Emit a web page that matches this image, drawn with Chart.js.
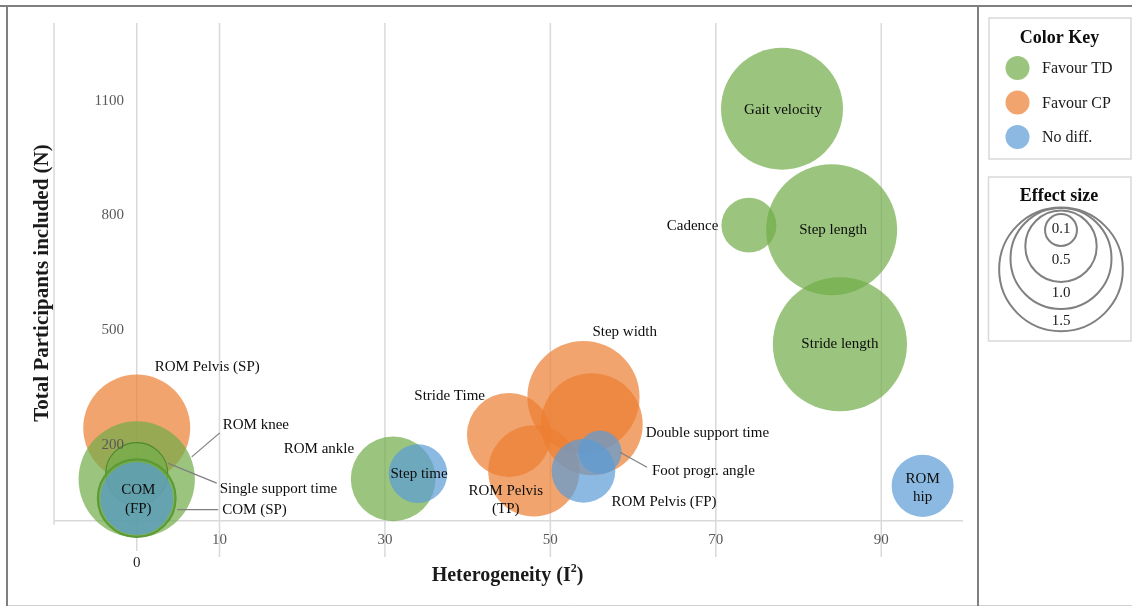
<!DOCTYPE html>
<html>
<head>
<meta charset="utf-8">
<script src="https://cdn.jsdelivr.net/npm/chart.js@4.4.1/dist/chart.umd.min.js"></script>
<style>
html,body{margin:0;padding:0;background:#fff;}
#wrap{position:relative;width:1132px;height:606px;}
canvas{display:block;}
</style>
</head>
<body>
<div id="wrap"><canvas id="c" width="1132" height="606"></canvas></div>
<script>
// ---------- DATA ----------
// Favour TD (green)
const tdLabels = ['ROM knee', 'Single support time', 'COM (SP)', 'ROM ankle', 'Cadence', 'Gait velocity', 'Step length', 'Stride length'];
const tdHeterogeneity = [0, 0, 0, 31, 74, 78, 84, 85];
const tdParticipants = [108, 123, 59, 109, 772, 1076, 760, 461];
const tdEffectSize = [1.3, 0.37, 0.58, 0.69, 0.29, 1.43, 1.65, 1.73];

// Favour CP (orange)
const cpLabels = ['ROM Pelvis (SP)', 'Stride Time', 'ROM Pelvis (TP)', 'Step width', 'Double support time'];
const cpHeterogeneity = [0, 45, 48, 54, 55];
const cpParticipants = [242, 224, 130, 323, 252];
const cpEffectSize = [1.10, 0.68, 0.80, 1.21, 1.00];

// No difference (blue)
const ndLabels = ['Step time', 'ROM Pelvis (FP)', 'Foot progr. angle', 'ROM hip', 'COM (FP)'];
const ndHeterogeneity = [34, 54, 56, 95, 0];
const ndParticipants = [123, 130, 179, 91, 58];
const ndEffectSize = [0.33, 0.39, 0.18, 0.37, 0.51];

// Axis ticks
const xGridValues = [0, 10, 30, 50, 70, 90];
const xTickLabels = [10, 30, 50, 70, 90];
const yTickLabels = [200, 500, 800, 1100];

// Legends
const colorKeyLabels = ['Favour TD', 'Favour CP', 'No diff.'];
const effectLegendValues = [0.1, 0.5, 1.0, 1.5];
const effectLegendText = ['0.1', '0.5', '1.0', '1.5'];

// ---------- STYLE / LAYOUT ----------
const SIZE_K = 51; // bubble radius (px) for effect size 1.0 (area proportional)
const COLORS = {
  td: 'rgba(112,173,71,0.7)',
  cp: 'rgba(237,125,49,0.7)',
  nd: 'rgba(91,155,213,0.7)'
};
const OUTLINES = {
  'Single support time': {w: 1.2, c: '#4f8a2e'},
  'COM (SP)': {w: 2.2, c: '#5b9a36'}
};
// label placement relative to bubble centre (px)
const LABEL_LAYOUT = {
  'Gait velocity': {dx: 1, dy: 1.5, align: 'center'},
  'Cadence': {dx: -30.5, dy: 1, align: 'right'},
  'Step length': {dx: 1.5, dy: 0, align: 'center'},
  'Stride length': {dx: 0, dy: 0, align: 'center'},
  'ROM hip': {dx: 0, dy: -7, align: 'center', lines: ['ROM', 'hip'], lh: 18},
  'Step width': {dx: 9, dy: -65, align: 'left'},
  'Double support time': {dx: 54, dy: 9, align: 'left'},
  'Stride Time': {dx: -24, dy: -39, align: 'right'},
  'ROM Pelvis (TP)': {dx: -28, dy: 20, align: 'center', lines: ['ROM Pelvis', '(TP)'], lh: 18},
  'ROM Pelvis (FP)': {dx: 28, dy: 31, align: 'left'},
  'Foot progr. angle': {dx: 52, dy: 19, align: 'left', leader: [20, 0, 47, 15]},
  'ROM ankle': {dx: -39, dy: -30, align: 'right'},
  'Step time': {dx: 1, dy: 0, align: 'center'},
  'ROM Pelvis (SP)': {dx: 18, dy: -61, align: 'left'},
  'ROM knee': {dx: 86, dy: -54.5, align: 'left', leader: [55, -22.5, 83, -46.5]},
  'Single support time': {dx: 83, dy: 15.5, align: 'left', leader: [31, -10.5, 80, 9.5]},
  'COM (SP)': {dx: 85.5, dy: 12, align: 'left', leader: [40.5, 11.5, 81.5, 11.5]},
  'COM (FP)': {dx: 1.5, dy: -8.5, align: 'center', lines: ['COM', '(FP)'], lh: 19}
};
const SERIF = '"Liberation Serif", "Times New Roman", serif';

function makePoints(xs, ys, es, labels) {
  return xs.map((x, i) => ({x: x, y: ys[i], r: SIZE_K * Math.sqrt(es[i]), label: labels[i]}));
}
function outlineW(ctx) { const p = ctx.raw; return p && OUTLINES[p.label] ? OUTLINES[p.label].w : 0; }
function outlineC(ctx) { const p = ctx.raw; return p && OUTLINES[p.label] ? OUTLINES[p.label].c : 'rgba(0,0,0,0)'; }

// Chart.js paints the last dataset first, so the top-most series comes first here
const datasets = [
  {label: 'No diff.', data: makePoints(ndHeterogeneity, ndParticipants, ndEffectSize, ndLabels), backgroundColor: COLORS.nd},
  {label: 'Favour TD', data: makePoints(tdHeterogeneity, tdParticipants, tdEffectSize, tdLabels), backgroundColor: COLORS.td},
  {label: 'Favour CP', data: makePoints(cpHeterogeneity, cpParticipants, cpEffectSize, cpLabels), backgroundColor: COLORS.cp}
].map(d => Object.assign(d, {borderWidth: outlineW, borderColor: outlineC, hoverBorderWidth: outlineW, hoverRadius: 0, clip: false}));

const customPlugin = {
  id: 'custom',
  beforeDatasetsDraw(chart) {
    const {ctx, chartArea: a, scales: {x, y}} = chart;
    ctx.save();
    // outer frame
    ctx.strokeStyle = '#d0d0d0'; ctx.lineWidth = 1;
    ctx.beginPath(); ctx.moveTo(7, 605.5); ctx.lineTo(1132, 605.5); ctx.stroke();
    ctx.strokeStyle = '#7f7f7f'; ctx.lineWidth = 2;
    ctx.beginPath(); ctx.moveTo(0, 6); ctx.lineTo(1132, 6); ctx.stroke();
    ctx.beginPath(); ctx.moveTo(7, 5); ctx.lineTo(7, 606); ctx.stroke();
    ctx.beginPath(); ctx.moveTo(978, 5); ctx.lineTo(978, 606); ctx.stroke();

    // grid lines
    ctx.strokeStyle = '#d9d9d9'; ctx.lineWidth = 1.5;
    xGridValues.forEach(v => {
      const px = x.getPixelForValue(v);
      ctx.beginPath(); ctx.moveTo(px, a.top); ctx.lineTo(px, v === 0 ? a.bottom - 8 : a.bottom - 2); ctx.stroke();
    });
    const py0 = y.getPixelForValue(0);
    // vertical axis line
    ctx.beginPath(); ctx.moveTo(a.left, a.top); ctx.lineTo(a.left, py0 + 4); ctx.stroke();
    // horizontal axis line at 0
    ctx.beginPath(); ctx.moveTo(a.left, py0); ctx.lineTo(a.right - 1, py0); ctx.stroke();
    ctx.restore();
  },
  afterDatasetsDraw(chart) {
    const {ctx, chartArea: a, scales: {x, y}} = chart;
    ctx.save();
    // tick labels
    ctx.fillStyle = '#595959';
    ctx.font = '15px ' + SERIF;
    ctx.textBaseline = 'middle';
    ctx.textAlign = 'right';
    yTickLabels.forEach(v => ctx.fillText(String(v), 124, y.getPixelForValue(v) + 1));
    ctx.textAlign = 'center';
    const py0 = y.getPixelForValue(0);
    xTickLabels.forEach(v => ctx.fillText(String(v), x.getPixelForValue(v), py0 + 19));
    ctx.fillStyle = '#262626';
    ctx.fillText('0', x.getPixelForValue(0), py0 + 42);

    // axis titles
    ctx.fillStyle = '#1a1a1a';
    ctx.font = 'bold 20px ' + SERIF;
    const t1 = 'Heterogeneity (I', t2 = '2', t3 = ')';
    const w1 = ctx.measureText(t1).width;
    ctx.font = 'bold 12px ' + SERIF;
    const w2 = ctx.measureText(t2).width;
    ctx.font = 'bold 20px ' + SERIF;
    const w3 = ctx.measureText(t3).width;
    let sx = 507.5 - (w1 + w2 + w3) / 2;
    const ty = 576;
    ctx.textAlign = 'left';
    ctx.fillText(t1, sx, ty);
    ctx.font = 'bold 12px ' + SERIF;
    ctx.fillText(t2, sx + w1, ty - 7);
    ctx.font = 'bold 20px ' + SERIF;
    ctx.fillText(t3, sx + w1 + w2, ty);

    ctx.save();
    ctx.translate(43, 283);
    ctx.rotate(-Math.PI / 2);
    ctx.textAlign = 'center';
    ctx.font = 'bold 21px ' + SERIF;
    ctx.fillText('Total Participants included (N)', 0, 0);
    ctx.restore();

    // bubble labels
    ctx.font = '15px ' + SERIF;
    ctx.fillStyle = '#0d0d0d';
    ctx.textBaseline = 'middle';
    chart.data.datasets.forEach((ds, di) => {
      const meta = chart.getDatasetMeta(di);
      ds.data.forEach((p, i) => {
        const el = meta.data[i];
        const L = LABEL_LAYOUT[p.label];
        if (!L) return;
        const cx = el.x, cy = el.y;
        if (L.leader) {
          ctx.strokeStyle = '#7f7f7f'; ctx.lineWidth = 1.2;
          ctx.beginPath(); ctx.moveTo(cx + L.leader[0], cy + L.leader[1]); ctx.lineTo(cx + L.leader[2], cy + L.leader[3]); ctx.stroke();
        }
        ctx.textAlign = L.align;
        const lines = L.lines || [p.label];
        lines.forEach((s, k) => ctx.fillText(s, cx + L.dx, cy + L.dy + k * (L.lh || 18)));
      });
    });

    // ---- legend: colour key ----
    ctx.strokeStyle = '#d9d9d9'; ctx.lineWidth = 1.5;
    ctx.strokeRect(989, 18, 142, 141);
    ctx.strokeRect(988.5, 177, 142.5, 164);
    ctx.fillStyle = '#0d0d0d';
    ctx.font = 'bold 18px ' + SERIF;
    ctx.textAlign = 'center';
    ctx.fillText('Color Key', 1059.5, 38);
    ctx.fillText('Effect size', 1059, 196);
    const keyColors = [COLORS.td, COLORS.cp, COLORS.nd];
    ctx.font = '16px ' + SERIF;
    ctx.textAlign = 'left';
    colorKeyLabels.forEach((s, i) => {
      const cy = 68 + i * 34.5;
      ctx.fillStyle = keyColors[i];
      ctx.beginPath(); ctx.arc(1017.5, cy, 12, 0, Math.PI * 2); ctx.fill();
      ctx.fillStyle = '#1a1a1a';
      ctx.fillText(s, 1042, cy + 1);
    });

    // ---- legend: effect size ----
    const legK = 50.5;
    const tops = [214, 210.5, 208, 207.5];
    const textY = [229.5, 260, 293, 321];
    ctx.strokeStyle = '#808080'; ctx.lineWidth = 2;
    effectLegendValues.forEach((v, i) => {
      const r = legK * Math.sqrt(v);
      ctx.beginPath(); ctx.arc(1061, tops[i] + r, r, 0, Math.PI * 2); ctx.stroke();
    });
    ctx.fillStyle = '#1a1a1a';
    ctx.font = '15px ' + SERIF;
    ctx.textAlign = 'center';
    effectLegendText.forEach((s, i) => ctx.fillText(s, 1061, textY[i]));
    ctx.restore();
  }
};

new Chart(document.getElementById('c'), {
  type: 'bubble',
  data: {datasets: datasets},
  options: {
    responsive: false,
    animation: false,
    events: [],
    layout: {autoPadding: false, padding: {left: 54, top: 23, right: 1132 - 964, bottom: 606 - 559}},
    plugins: {legend: {display: false}, tooltip: {enabled: false}},
    scales: {
      x: {type: 'linear', min: -10, max: 100, display: false},
      y: {type: 'linear', min: -100, max: 1300, display: false}
    }
  },
  plugins: [customPlugin]
});
</script>
</body>
</html>
